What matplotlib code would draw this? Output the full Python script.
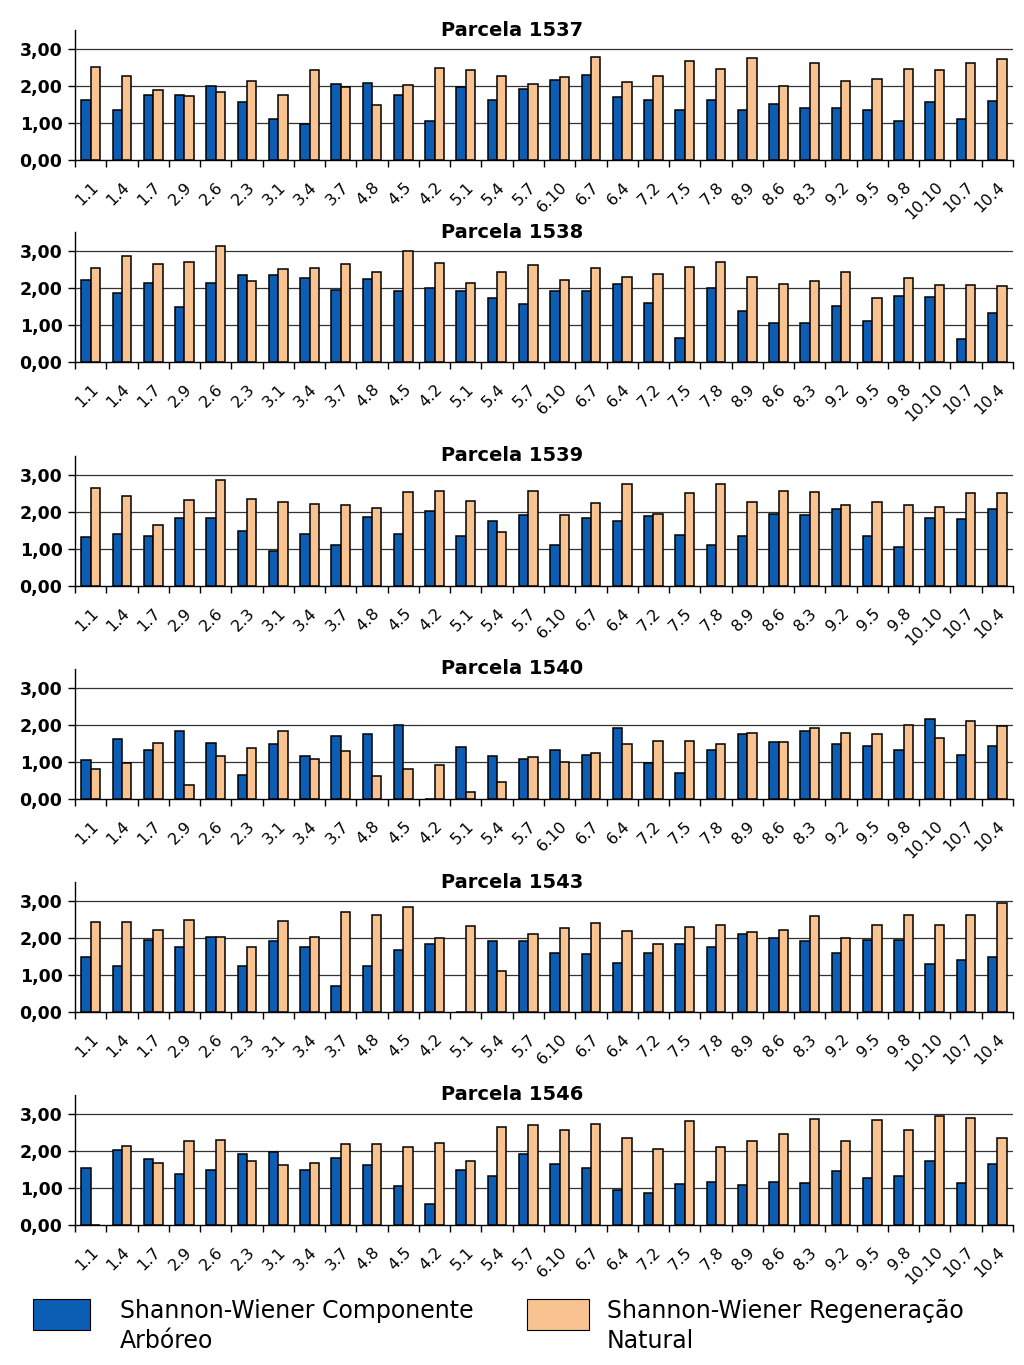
import numpy as np
import matplotlib.pyplot as plt
from matplotlib.patches import Rectangle
from matplotlib.ticker import FuncFormatter

# categorias (parcelas/subparcelas) no eixo x
categorias = ['1.1', '1.4', '1.7', '2.9', '2.6', '2.3', '3.1', '3.4', '3.7', '4.8',
              '4.5', '4.2', '5.1', '5.4', '5.7', '6.10', '6.7', '6.4', '7.2', '7.5',
              '7.8', '8.9', '8.6', '8.3', '9.2', '9.5', '9.8', '10.10', '10.7', '10.4']

parcelas = ['1537', '1538', '1539', '1540', '1543', '1546']

# Shannon-Wiener componente arboreo
arboreo_1537 = [1.62, 1.35, 1.76, 1.76, 1.98, 1.57, 1.10, 0.97, 2.05, 2.08,
                1.76, 1.06, 1.97, 1.62, 1.92, 2.16, 2.30, 1.69, 1.62, 1.35,
                1.62, 1.35, 1.50, 1.41, 1.41, 1.35, 1.06, 1.55, 1.10, 1.58]
arboreo_1538 = [2.22, 1.85, 2.14, 1.47, 2.14, 2.34, 2.34, 2.26, 1.95, 2.24,
                1.90, 1.99, 1.90, 1.73, 1.56, 1.90, 1.90, 2.11, 1.58, 0.65,
                1.98, 1.38, 1.04, 1.04, 1.51, 1.10, 1.78, 1.75, 0.62, 1.31]
arboreo_1539 = [1.32, 1.39, 1.35, 1.83, 1.83, 1.49, 0.95, 1.39, 1.10, 1.86,
                1.39, 2.02, 1.35, 1.76, 1.90, 1.10, 1.83, 1.76, 1.89, 1.37,
                1.10, 1.34, 1.95, 1.90, 2.08, 1.34, 1.05, 1.83, 1.81, 2.08]
arboreo_1540 = [1.06, 1.62, 1.32, 1.84, 1.50, 0.64, 1.48, 1.16, 1.69, 1.75,
                1.98, 0.00, 1.40, 1.16, 1.07, 1.32, 1.19, 1.92, 0.98, 0.70,
                1.32, 1.74, 1.54, 1.82, 1.48, 1.43, 1.32, 2.16, 1.19, 1.43]
arboreo_1543 = [1.49, 1.24, 1.94, 1.75, 2.01, 1.24, 1.92, 1.75, 0.70, 1.24,
                1.67, 1.83, 0.00, 1.92, 1.90, 1.60, 1.55, 1.33, 1.60, 1.82,
                1.75, 2.09, 1.98, 1.90, 1.60, 1.93, 1.93, 1.30, 1.41, 1.48]
arboreo_1546 = [1.54, 2.03, 1.79, 1.37, 1.49, 1.90, 1.97, 1.49, 1.81, 1.62,
                1.04, 0.56, 1.49, 1.32, 1.90, 1.64, 1.54, 0.94, 0.85, 1.10,
                1.17, 1.08, 1.17, 1.14, 1.46, 1.27, 1.32, 1.71, 1.14, 1.64]

# Shannon-Wiener regeneracao natural
regen_1537 = [2.50, 2.27, 1.89, 1.72, 1.84, 2.13, 1.75, 2.43, 1.97, 1.48,
              2.01, 2.47, 2.43, 2.27, 2.05, 2.23, 2.78, 2.10, 2.26, 2.67,
              2.45, 2.74, 1.98, 2.60, 2.13, 2.18, 2.45, 2.43, 2.60, 2.72]
regen_1538 = [2.53, 2.86, 2.63, 2.68, 3.12, 2.18, 2.51, 2.53, 2.63, 2.41,
              2.99, 2.66, 2.12, 2.43, 2.61, 2.21, 2.53, 2.29, 2.36, 2.56,
              2.68, 2.29, 2.11, 2.17, 2.41, 1.73, 2.26, 2.08, 2.08, 2.05]
regen_1539 = [2.64, 2.43, 1.65, 2.32, 2.86, 2.34, 2.27, 2.20, 2.17, 2.09,
              2.54, 2.57, 2.30, 1.46, 2.56, 1.90, 2.23, 2.74, 1.95, 2.50,
              2.74, 2.25, 2.56, 2.53, 2.17, 2.27, 2.17, 2.13, 2.50, 2.50]
regen_1540 = [0.81, 0.98, 1.50, 0.38, 1.15, 1.38, 1.82, 1.08, 1.28, 0.62,
              0.81, 0.91, 0.18, 0.45, 1.13, 1.00, 1.25, 1.47, 1.57, 1.57,
              1.47, 1.79, 1.54, 1.92, 1.79, 1.74, 1.98, 1.64, 2.10, 1.97]
regen_1543 = [2.43, 2.43, 2.20, 2.47, 2.01, 1.76, 2.45, 2.01, 2.68, 2.61,
              2.82, 1.98, 2.31, 1.10, 2.11, 2.26, 2.40, 2.18, 1.82, 2.30,
              2.35, 2.16, 2.20, 2.58, 1.98, 2.33, 2.60, 2.35, 2.62, 2.94]
regen_1546 = [0.00, 2.13, 1.66, 2.25, 2.29, 1.71, 1.61, 1.68, 2.17, 2.17,
              2.10, 2.22, 1.71, 2.64, 2.69, 2.56, 2.71, 2.34, 2.05, 2.80,
              2.10, 2.25, 2.44, 2.86, 2.25, 2.83, 2.56, 2.93, 2.88, 2.34]

arboreo = [arboreo_1537, arboreo_1538, arboreo_1539, arboreo_1540, arboreo_1543, arboreo_1546]
regen = [regen_1537, regen_1538, regen_1539, regen_1540, regen_1543, regen_1546]

AZUL = '#0b5eb3'
PESSEGO = '#f8c291'

W, H = 1024, 1365
fig = plt.figure(figsize=(W / 100, H / 100), dpi=100)

# base de cada painel em pixels a partir do topo
bases_px = [160, 362, 586, 799, 1012, 1225]
alt_px = 130
x = np.arange(len(categorias))
larg = 0.30

fmt = FuncFormatter(lambda v, p: f'{v:.2f}'.replace('.', ','))

for i, nome in enumerate(parcelas):
    b = bases_px[i]
    ax = fig.add_axes([75 / W, 1 - b / H, 938 / W, alt_px / H])
    ax.bar(x - larg / 2, arboreo[i], larg, color=AZUL, edgecolor='black', linewidth=1.1, zorder=3)
    ax.bar(x + larg / 2, regen[i], larg, color=PESSEGO, edgecolor='black', linewidth=1.1, zorder=3)

    ax.set_xlim(-0.5, len(categorias) - 0.5)
    ax.set_ylim(0, 3.5)
    ax.set_yticks([0, 1, 2, 3])
    ax.yaxis.set_major_formatter(fmt)
    for yv in [1, 2, 3]:
        ax.axhline(yv, color='#333333', linewidth=0.9, zorder=1)

    ax.set_xticks(np.arange(-0.5, len(categorias), 1))
    ax.set_xticklabels([])
    ax.set_xticks(x, minor=True)
    ax.set_xticklabels(categorias, minor=True, rotation=45, ha='right',
                       rotation_mode='anchor', fontsize=11.5)
    ax.tick_params(axis='x', which='major', length=5, width=1, direction='out')
    ax.tick_params(axis='x', which='minor', length=0, pad=14)
    ax.tick_params(axis='y', length=5, width=1, pad=4)
    for t in ax.get_yticklabels():
        t.set_fontweight('heavy')
        t.set_fontsize(12.5)

    for s in ['top', 'right']:
        ax.spines[s].set_visible(False)
    ax.spines['left'].set_linewidth(1)
    ax.spines['bottom'].set_linewidth(1)

    fig.text(0.5, 1 - (b - alt_px) / H, 'Parcela ' + nome, ha='center', va='center',
             fontsize=14, fontweight='heavy')

# legenda
fig.add_artist(Rectangle((33 / W, 1 - 1330 / H), 57 / W, 31 / H, transform=fig.transFigure,
                         facecolor=AZUL, edgecolor='black', linewidth=0.8))
fig.add_artist(Rectangle((527 / W, 1 - 1330 / H), 62 / W, 31 / H, transform=fig.transFigure,
                         facecolor=PESSEGO, edgecolor='black', linewidth=0.8))
fig.text(120 / W, 1 - 1326 / H, 'Shannon-Wiener Componente\nArbóreo', ha='left', va='center',
         fontsize=17, linespacing=1.3)
fig.text(607 / W, 1 - 1326 / H, 'Shannon-Wiener Regeneração\nNatural', ha='left', va='center',
         fontsize=17, linespacing=1.3)

fig.savefig('out.png', dpi=100, facecolor='white')
